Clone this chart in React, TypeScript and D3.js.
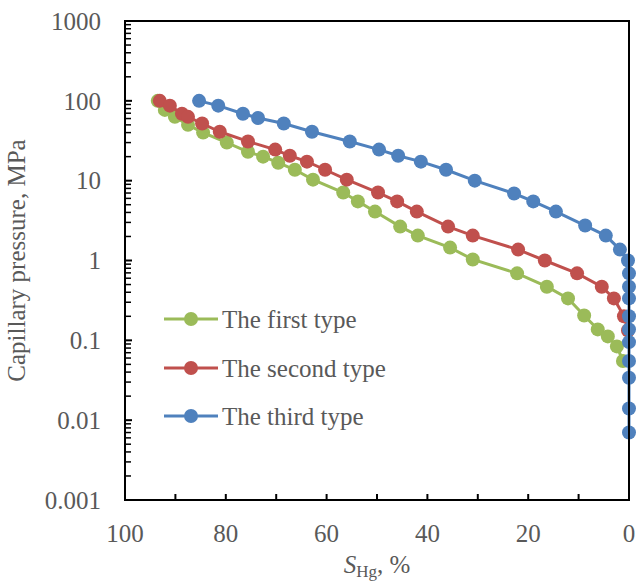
import React from "react";
import * as d3 from "d3";

const firstS = [93.5, 92.1, 90.1, 87.5, 84.5, 79.8, 75.6, 72.6, 69.6, 66.3, 62.7, 56.7, 53.8, 50.4, 45.4, 41.9, 35.5, 31.0, 22.2, 16.3, 12.1, 8.9, 6.2, 4.2, 2.4, 1.2];
const firstP = [100, 77, 63, 50, 40, 30, 23, 20, 16.8, 13.7, 10.3, 7.1, 5.5, 4.1, 2.66, 2.05, 1.45, 1.03, 0.69, 0.47, 0.335, 0.205, 0.137, 0.112, 0.084, 0.055];

const secondS = [93.1, 91.1, 88.7, 87.5, 84.7, 81.2, 75.6, 70.2, 67.3, 63.9, 60.3, 56.0, 49.8, 46.0, 42.1, 35.9, 31.0, 22.0, 16.7, 10.3, 5.4, 3.0, 1.0, 0.2];
const secondP = [100, 87, 69, 63, 52, 41, 31, 24.5, 20.5, 17.3, 13.7, 10.3, 7.1, 5.5, 4.1, 2.66, 2.05, 1.37, 1.0, 0.69, 0.47, 0.335, 0.2, 0.133];

const thirdS = [85.3, 81.5, 76.6, 73.6, 68.5, 62.9, 55.4, 49.6, 45.8, 41.3, 36.3, 30.6, 22.8, 19.0, 14.5, 8.7, 4.6, 1.8, 0.2, 0, 0, 0, 0, 0, 0, 0, 0, 0, 0];
const thirdP = [100, 87, 69, 61, 52, 41, 31, 24.5, 20.5, 17.3, 13.7, 10, 6.9, 5.5, 4.1, 2.74, 2.05, 1.37, 1.0, 0.69, 0.47, 0.335, 0.2, 0.137, 0.095, 0.055, 0.034, 0.014, 0.007];

const seriesNames = ["The first type", "The second type", "The third type"];
const seriesColors = ["#9BBB59", "#C0504D", "#4F81BD"];
const xTicks = [100, 80, 60, 40, 20, 0];
const yTicks = [1000, 100, 10, 1, 0.1, 0.01, 0.001];

const W = 636, H = 583;
const L = 125, R = 629, T = 21, B = 500;
const FONT = "Liberation Serif";
const TXT = "#595959";
const FS = 25;

export default function App() {
  const x = d3.scaleLinear().domain([100, 0]).range([L, R]);
  const y = d3.scaleLog().domain([0.001, 1000]).range([B, T]);
  const series = [
    { s: firstS, p: firstP },
    { s: secondS, p: secondP },
    { s: thirdS, p: thirdP },
  ];
  const line = d3
    .line<[number, number]>()
    .x((d) => x(d[0]))
    .y((d) => y(d[1]));

  const minorY: number[] = [];
  for (let e = -3; e < 3; e++) {
    for (let k = 2; k <= 9; k++) minorY.push(k * Math.pow(10, e));
  }
  const xMinor = d3.range(0, 101, 10);

  const legendY = [319, 368, 416];

  return (
    <svg width={W} height={H} style={{ position: "absolute", left: 0, top: 0, background: "#fff" }}>
      <rect x={0} y={0} width={W} height={H} fill="#fff" />
      {series.map((sr, i) => {
        const pts: [number, number][] = sr.s.map((v, j) => [v, sr.p[j]]);
        return (
          <g key={i}>
            <path d={line(pts) || ""} fill="none" stroke={seriesColors[i]} strokeWidth={3} />
            {pts.map((d, j) => (
              <circle key={j} cx={x(d[0])} cy={y(d[1])} r={7} fill={seriesColors[i]} />
            ))}
          </g>
        );
      })}
      <rect x={L} y={T} width={R - L} height={B - T} fill="none" stroke="#000" strokeWidth={2} />
      {yTicks.map((t) => (
        <g key={t}>
          <line x1={L} x2={L + 7} y1={y(t)} y2={y(t)} stroke="#000" strokeWidth={2} />
          <text x={L - 24} y={y(t)} dy="0.35em" textAnchor="end" fontFamily={FONT} fontSize={FS} fill={TXT}>
            {String(t)}
          </text>
        </g>
      ))}
      {minorY.map((t, i) => (
        <line key={i} x1={L} x2={L + 6} y1={y(t)} y2={y(t)} stroke="#000" strokeWidth={1.5} />
      ))}
      {xMinor.map((t) => (
        <line key={t} x1={x(t)} x2={x(t)} y1={B} y2={B - 6} stroke="#000" strokeWidth={2} />
      ))}
      {xTicks.map((t) => (
        <text key={t} x={x(t)} y={B + 42} textAnchor="middle" fontFamily={FONT} fontSize={FS} fill={TXT}>
          {String(t)}
        </text>
      ))}
      <text
        transform={`translate(25, ${(T + B) / 2}) rotate(-90)`}
        textAnchor="middle"
        fontFamily={FONT}
        fontSize={FS}
        fill={TXT}
      >
        Capillary pressure, MPa
      </text>
      <text x={(L + R) / 2} y={573} textAnchor="middle" fontFamily={FONT} fontSize={FS} fill={TXT}>
        <tspan fontStyle="italic">S</tspan>
        <tspan fontSize={17} dy={4}>Hg</tspan>
        <tspan dy={-4}>, %</tspan>
      </text>
      {seriesNames.map((n, i) => (
        <g key={n}>
          <line x1={164} x2={218} y1={legendY[i]} y2={legendY[i]} stroke={seriesColors[i]} strokeWidth={3} />
          <circle cx={191} cy={legendY[i]} r={7} fill={seriesColors[i]} />
          <text x={222} y={legendY[i]} dy="0.35em" fontFamily={FONT} fontSize={FS} fill={TXT}>
            {n}
          </text>
        </g>
      ))}
    </svg>
  );
}
